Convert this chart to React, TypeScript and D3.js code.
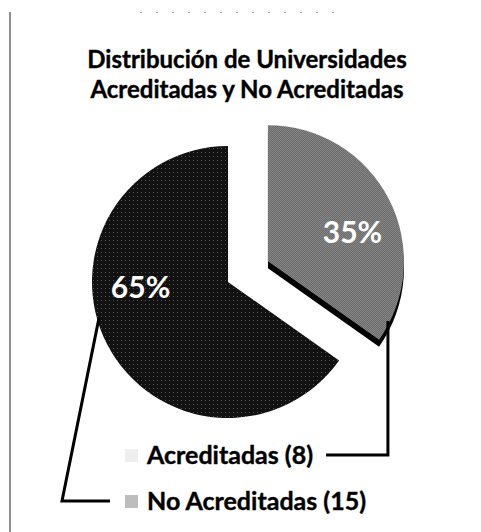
import React, { useEffect, useRef } from "react";
import * as d3 from "d3";

// ---- data ----
const categories = ["Acreditadas", "No Acreditadas"];
const counts = [8, 15];
const percentLabels = ["35%", "65%"];
const legendLabels = ["Acreditadas (8)", "No Acreditadas (15)"];
const titleLines = ["Distribución de Universidades", "Acreditadas y No Acreditadas"];

// ---- layout / style ----
const W = 481;
const H = 532;
const CX = 228;
const CY = 282;
const R = 136;
const EXPLODE = [45, 0];
const LABEL_FRAC = 0.59;
const LABEL_R = 88;
const LEADER_FRAC = [0.93, 0.55];
const FONT = "Lato, 'Open Sans', sans-serif";
const LEGEND_X = 147;
const LEGEND_BASE = [464, 510];
const DARK_ELBOW_X = 62;

export default function App() {
  const ref = useRef<SVGSVGElement | null>(null);

  useEffect(() => {
    const svg = d3.select(ref.current);
    svg.selectAll("*").remove();

    const defs = svg.append("defs");
    const pLight = defs
      .append("pattern")
      .attr("id", "lightTex")
      .attr("width", 2)
      .attr("height", 2)
      .attr("patternUnits", "userSpaceOnUse");
    pLight.append("rect").attr("width", 2).attr("height", 2).attr("fill", "#9c9c9c");
    pLight.append("rect").attr("width", 1).attr("height", 1).attr("fill", "#555555");
    pLight.append("rect").attr("x", 1).attr("y", 1).attr("width", 1).attr("height", 1).attr("fill", "#555555");

    const pDark = defs
      .append("pattern")
      .attr("id", "darkTex")
      .attr("width", 4)
      .attr("height", 4)
      .attr("patternUnits", "userSpaceOnUse");
    pDark.append("rect").attr("width", 4).attr("height", 4).attr("fill", "#111111");
    pDark.append("rect").attr("x", 1).attr("y", 2).attr("width", 1).attr("height", 1).attr("fill", "#555555");

    const fills = ["url(#lightTex)", "url(#darkTex)"];
    const legendFills = ["#eeeeee", "#bdbdbd"];

    // frame bits
    svg
      .append("line")
      .attr("x1", 10)
      .attr("x2", 10)
      .attr("y1", 12)
      .attr("y2", H)
      .attr("stroke", "#6a6a6a")
      .attr("stroke-width", 1.5);
    svg
      .append("line")
      .attr("x1", 140)
      .attr("x2", 348)
      .attr("y1", 12.5)
      .attr("y2", 12.5)
      .attr("stroke", "#9a9a9a")
      .attr("stroke-width", 1)
      .attr("stroke-dasharray", "2 14");

    // title
    const title = svg
      .append("text")
      .attr("x", 247)
      .attr("text-anchor", "middle")
      .attr("font-family", FONT)
      .attr("font-weight", 700)
      .attr("font-size", 24)
      .attr("fill", "#000")
      .attr("stroke", "#000")
      .attr("stroke-width", 0.4);
    titleLines.forEach((t, i) => {
      title
        .append("tspan")
        .attr("x", 247)
        .attr("y", 68 + i * 30)
        .text(t);
    });

    const pie = d3
      .pie<number>()
      .sort(null)
      .startAngle(0)
      .endAngle(2 * Math.PI)
      .value((d) => d);
    const arcs = pie(counts);
    const arc = d3.arc<d3.PieArcDatum<number>>().innerRadius(0).outerRadius(R);

    const polar = (a: number, r: number): [number, number] => [Math.sin(a) * r, -Math.cos(a) * r];

    const offsets = arcs.map((a, i) => {
      const mid = (a.startAngle + a.endAngle) / 2;
      const [dx, dy] = polar(mid, EXPLODE[i]);
      return [CX + dx, CY + dy];
    });

    const g = svg.append("g");
    arcs.forEach((a, i) => {
      const [ox, oy] = offsets[i];
      if (i === 0) {
        g.append("path")
          .attr("d", arc(a) as string)
          .attr("transform", `translate(${ox},${oy + 7})`)
          .attr("fill", "#000");
      }
      g.append("path")
        .attr("d", arc(a) as string)
        .attr("transform", `translate(${ox},${oy})`)
        .attr("fill", fills[i]);
    });

    // percent labels
    arcs.forEach((a, i) => {
      const [ox, oy] = offsets[i];
      const ang = a.startAngle + LABEL_FRAC * (a.endAngle - a.startAngle);
      const [dx, dy] = polar(ang, LABEL_R);
      svg
        .append("text")
        .attr("x", ox + dx)
        .attr("y", oy + dy + 6)
        .attr("text-anchor", "middle")
        .attr("font-family", FONT)
        .attr("font-weight", 700)
        .attr("font-size", 30)
        .attr("fill", "#fff")
        .text(percentLabels[i]);
    });

    // legend
    const legendEnds: number[] = [];
    legendLabels.forEach((t, i) => {
      const tx = svg
        .append("text")
        .attr("x", LEGEND_X)
        .attr("y", LEGEND_BASE[i])
        .attr("font-family", FONT)
        .attr("font-weight", 700)
        .attr("font-size", 25)
        .attr("fill", "#000")
        .attr("stroke", "#000")
        .attr("stroke-width", 0.4)
        .text(t);
      const node = tx.node() as SVGTextElement;
      legendEnds.push(LEGEND_X + node.getComputedTextLength());
      svg
        .append("rect")
        .attr("x", LEGEND_X - 22)
        .attr("y", LEGEND_BASE[i] - 15)
        .attr("width", 13)
        .attr("height", 13)
        .attr("fill", legendFills[i]);
    });

    // leader lines
    const line = d3.line();
    arcs.forEach((a, i) => {
      const [ox, oy] = offsets[i];
      const ang = a.startAngle + LEADER_FRAC[i] * (a.endAngle - a.startAngle);
      const [dx, dy] = polar(ang, R - 2);
      const p0: [number, number] = [ox + dx, oy + dy];
      const ly = LEGEND_BASE[i] - 9;
      let pts: [number, number][];
      if (i === 0) {
        pts = [p0, [p0[0], ly], [legendEnds[i] + 13, ly]];
      } else {
        pts = [p0, [DARK_ELBOW_X, ly], [LEGEND_X - 37, ly]];
      }
      svg
        .append("path")
        .attr("d", line(pts) as string)
        .attr("fill", "none")
        .attr("stroke", "#000")
        .attr("stroke-width", 3);
    });
  }, []);

  return (
    <svg
      ref={ref}
      width={W}
      height={H}
      viewBox={`0 0 ${W} ${H}`}
      style={{ position: "absolute", left: 0, top: 0, background: "#fff" }}
    />
  );
}
